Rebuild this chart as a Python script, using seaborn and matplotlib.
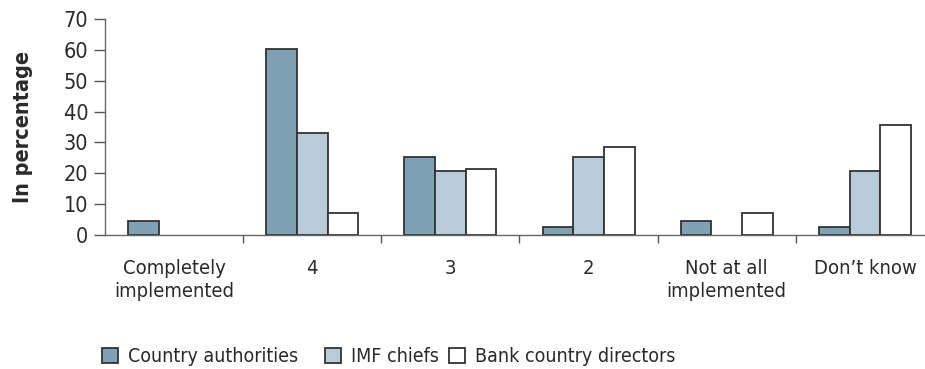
import matplotlib
matplotlib.use("Agg")
import matplotlib.pyplot as plt
import seaborn as sns
import pandas as pd
from matplotlib.patches import Patch
from matplotlib import font_manager

categories = ["Completely\nimplemented", "4", "3", "2", "Not at all\nimplemented", "Don\u2019t know"]
series = ["Country authorities", "IMF chiefs", "Bank country directors"]
country_authorities = [4.5, 60.2, 25.3, 2.6, 4.5, 2.6]
imf_chiefs = [0, 33.2, 20.7, 25.3, 0, 20.7]
bank_directors = [0, 7.1, 21.4, 28.6, 7.1, 35.7]
y_ticks = [0, 10, 20, 30, 40, 50, 60, 70]

colors = ["#7fa1b4", "#b8cbd8", "#ffffff"]
edge = "#333333"
text_color = "#2a2a2a"

rows = []
for name, vals in zip(series, [country_authorities, imf_chiefs, bank_directors]):
    for cat, v in zip(categories, vals):
        rows.append({"category": cat, "group": name, "value": v})
df = pd.DataFrame(rows)

sns.set_theme(style="white")

# prefer a narrow face for the labels when one is installed
fonts = font_manager.fontManager.ttflist
narrow = [f for f in fonts if f.stretch in ("condensed", "semi-condensed", "extra-condensed")
          or "Narrow" in f.name or "Condensed" in f.name]
if narrow:
    pick = sorted(narrow, key=lambda f: (f.weight != 400, f.style != "normal"))[0]
    plt.rcParams["font.family"] = [pick.name, "DejaVu Sans"]
    plt.rcParams["font.stretch"] = pick.stretch
    size, cat_size, leg_size = 15.5, 14.5, 14
else:
    plt.rcParams["font.family"] = ["DejaVu Sans"]
    size, cat_size, leg_size = 13, 12.5, 12

fig = plt.figure(figsize=(9.25, 3.69), dpi=100)
ax = fig.add_axes([105 / 925, 1 - 235 / 369, 829 / 925, 216 / 369])

sns.barplot(data=df, x="category", y="value", hue="group", order=categories,
            hue_order=series, palette=colors, width=0.667, gap=0,
            edgecolor=edge, linewidth=1.3, saturation=1, ax=ax, legend=False)

for p in ax.patches:
    if p.get_height() == 0:
        p.set_linewidth(0)

ax.set_xlim(-0.5, 5.5)
ax.set_ylim(0, 70)
ax.set_yticks(y_ticks)
ax.set_yticklabels([str(t) for t in y_ticks], fontsize=size, color=text_color)
ax.set_xticks(range(len(categories)))
ax.set_xticklabels(categories, fontsize=cat_size, color=text_color, linespacing=1.3)
ax.set_xticks([i + 0.5 for i in range(len(categories) - 1)], minor=True)
ax.tick_params(axis="x", which="major", length=0, pad=17)
ax.tick_params(axis="x", which="minor", length=6, width=1, color="#555555", direction="out", bottom=True)
ax.tick_params(axis="y", length=8, width=1, color="#555555", direction="out", left=True, pad=4)

for s in ["top", "right"]:
    ax.spines[s].set_visible(False)
for s in ["left", "bottom"]:
    ax.spines[s].set_color("#666666")
    ax.spines[s].set_linewidth(1)

ax.set_xlabel("")
ax.set_ylabel("In percentage", fontsize=size, fontweight="bold", color=text_color)
ax.yaxis.set_label_coords(-72 / 829, 0.5)

# one legend entry per series, each placed at its own left edge
legend_x = [102, 325, 449]
for c, s, x in zip(colors, series, legend_x):
    h = Patch(facecolor=c, edgecolor=edge, linewidth=1.3, label=s)
    fig.legend(handles=[h], loc="center left", bbox_to_anchor=(x / 925, 1 - 357 / 369),
               frameon=False, fontsize=leg_size, handlelength=0.8, handleheight=0.8,
               handletextpad=0.55, borderpad=0, borderaxespad=0, labelcolor=text_color)

fig.savefig("out.png", dpi=100)
